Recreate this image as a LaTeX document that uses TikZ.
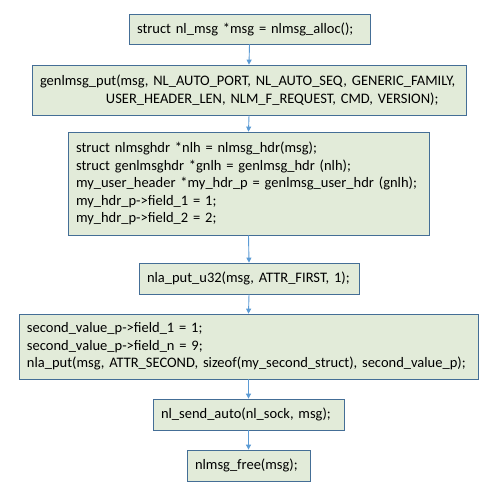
\documentclass[tikz,border=0pt]{standalone}
\usepackage{fontspec}
\setmainfont{Carlito}
\usetikzlibrary{arrows.meta}
\definecolor{boxfill}{RGB}{226,235,217}
\definecolor{boxline}{RGB}{68,110,150}
\definecolor{flowblue}{RGB}{91,155,213}
\tikzset{
  codebox/.style={draw=boxline,fill=boxfill,line width=0.8pt,inner xsep=8pt,inner ysep=0pt,
    align=left,font=\fontsize{14.5}{17.5}\selectfont},
  flow/.style={draw=flowblue,line width=0.9pt,-{Triangle[length=5pt,width=5pt]}}
}
\begin{document}
\begin{tikzpicture}[x=1pt,y=-1pt]
\fill[white] (0,0) rectangle (498,493);
\useasboundingbox (0,0) rectangle (498,493);

\node[codebox,text width=225pt,minimum height=30pt] (alloc) at (249.5,29) {struct nl\_msg *msg = nlmsg\_alloc();};
\node[codebox,text width=418pt,minimum height=50pt] (put) at (249,90)
  {genlmsg\_put(msg, NL\_AUTO\_PORT, NL\_AUTO\_SEQ, GENERIC\_FAMILY,\\
  \hspace*{66pt}USER\_HEADER\_LEN, NLM\_F\_REQUEST, CMD, VERSION);};
\node[codebox,text width=345pt,minimum height=103pt] (hdr) at (248.5,183.5)
  {struct nlmsghdr *nlh = nlmsg\_hdr(msg);\\
  struct genlmsghdr *gnlh = genlmsg\_hdr (nlh);\\
  my\_user\_header *my\_hdr\_p = genlmsg\_user\_hdr (gnlh);\\
  my\_hdr\_p->field\_1 = 1;\\
  my\_hdr\_p->field\_2 = 2;};
\node[codebox,text width=204pt,minimum height=31pt] (first) at (249,278.5) {nla\_put\_u32(msg, ATTR\_FIRST, 1);};
\node[codebox,text width=443pt,minimum height=65pt] (second) at (248.5,346.5)
  {second\_value\_p->field\_1 = 1;\\
  second\_value\_p->field\_n = 9;\\
  nla\_put(msg, ATTR\_SECOND, sizeof(my\_second\_struct), second\_value\_p);};
\node[codebox,text width=175pt,minimum height=31pt] (send) at (248.5,414.5) {nl\_send\_auto(nl\_sock, msg);};
\node[codebox,text width=107pt,minimum height=31pt] (free) at (248.5,465.5) {nlmsg\_free(msg);};

\draw[flow] (alloc.south) -- (put.north);
\draw[flow] (put.south) -- (hdr.north);
\draw[flow] (hdr.south) -- (first.north);
\draw[flow] (first.south) -- (second.north);
\draw[flow] (second.south) -- (send.north);
\draw[flow] (send.south) -- (free.north);
\end{tikzpicture}
\end{document}
